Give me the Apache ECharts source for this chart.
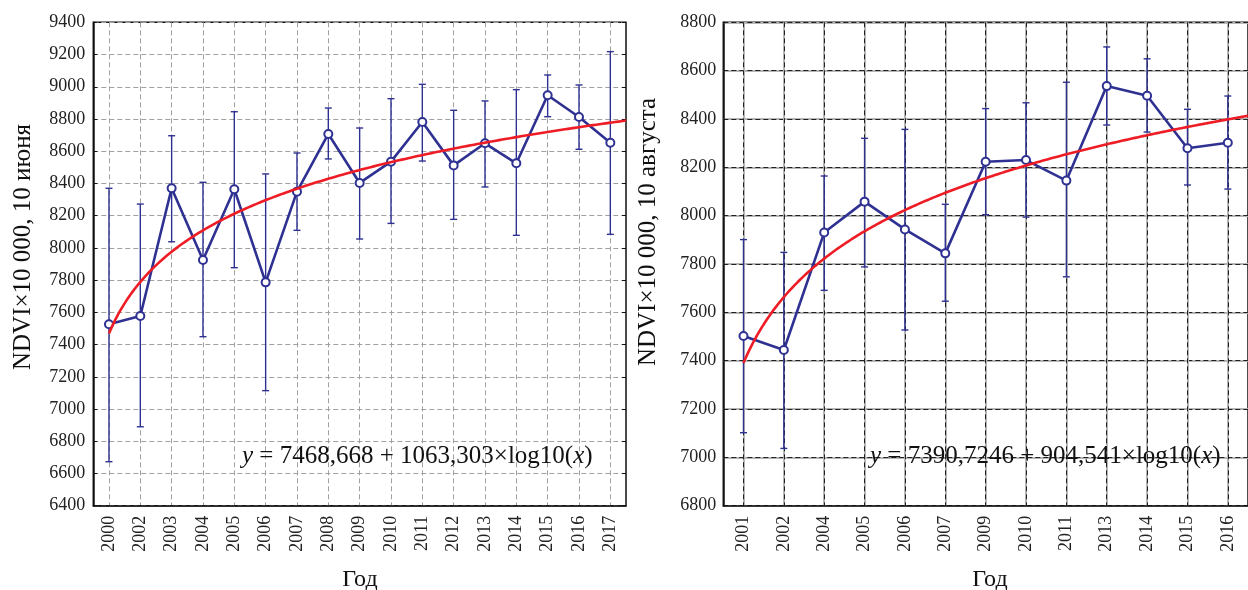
<!DOCTYPE html>
<html><head><meta charset="utf-8">
<script src="https://cdn.jsdelivr.net/npm/echarts@6/dist/echarts.min.js"></script>
<style>html,body{margin:0;padding:0;background:#fff}#c{width:1248px;height:590px}</style>
</head><body><div id="c"></div>
<script>
// ---- Left panel: 10 June ----
const yearsJune = ['2000','2002','2003','2004','2005','2006','2007','2008','2009','2010','2011','2012','2013','2014','2015','2016','2017'];
const meanJune  = [7526,7577,8370,7925,8364,7786,8349,8707,8403,8535,8781,8512,8649,8525,8947,8812,8653];
const upJune    = [8370,8272,8696,8407,8845,8459,8589,8868,8744,8926,9015,8854,8912,8982,9073,9011,9218];
const lowJune   = [6673,6890,8038,7449,7877,7114,8109,8552,8055,8152,8539,8177,8378,8078,8814,8612,8084];
const fitJune   = [7468.668, 1063.303];
const eqJune    = '7468,668 + 1063,303';
const yTicksJune = [6400, 9400, 200];

// ---- Right panel: 10 August ----
const yearsAug = ['2001','2002','2004','2005','2006','2007','2009','2010','2011','2013','2014','2015','2016'];
const meanAug  = [7502,7444,7930,8058,7943,7844,8223,8230,8145,8536,8496,8279,8302];
const upAug    = [7901,7848,8164,8320,8357,8047,8443,8467,8552,8698,8649,8440,8495];
const lowAug   = [7102,7037,7691,7788,7527,7646,8004,7994,7747,8375,8346,8127,8110];
const fitAug   = [7390.7246, 904.541];
const eqAug    = '7390,7246 + 904,541';
const yTicksAug = [6800, 8800, 200];

const FONT = '"Liberation Serif","Times New Roman",serif';
const NAVY = '#2e3192';
const RED = '#ee1c25';

function fitCurve(coef, n) {
  const pts = [];
  for (let x = 1; x <= n + 0.5 + 1e-9; x += 0.05) pts.push([x, coef[0] + coef[1] * Math.log10(x)]);
  return pts;
}
function errData(up, low) { return up.map((u, i) => [i, low[i], u]); }
function errRender(params, api) {
  const x = api.value(0);
  const lo = api.coord([x, api.value(1)]);
  const hi = api.coord([x, api.value(2)]);
  const w = 3.5;
  const st = { stroke: NAVY, lineWidth: 1.4 };
  return { type: 'group', children: [
    { type: 'line', shape: { x1: lo[0], y1: lo[1], x2: hi[0], y2: hi[1] }, style: st },
    { type: 'line', shape: { x1: lo[0]-w, y1: lo[1], x2: lo[0]+w, y2: lo[1] }, style: st },
    { type: 'line', shape: { x1: hi[0]-w, y1: hi[1], x2: hi[0]+w, y2: hi[1] }, style: st }
  ]};
}

const grids = [
  { left: 93.3, top: 22.3, width: 532.7, height: 483.4, show: true, borderColor: '#111', borderWidth: 1.5, backgroundColor: 'transparent' },
  { left: 723.3, top: 22.3, width: 532.4, height: 483.4, show: true, borderColor: '#111', borderWidth: 1.5, backgroundColor: 'transparent' }
];

const plain = v => String(v);
const xLabel = { interval: 0, rotate: 90, fontFamily: FONT, fontSize: 18, color: '#222', margin: 10 };
const yLabel = { fontFamily: FONT, fontSize: 18, color: '#222', margin: 8, formatter: plain };

const xAxes = [
  { type: 'category', gridIndex: 0, data: yearsJune, boundaryGap: true,
    axisLine: { lineStyle: { color: '#111', width: 1.5 } }, axisTick: { show: false }, axisLabel: xLabel,
    splitLine: { show: true, alignWithLabel: true, lineStyle: { color: '#a0a0a0', type: [5, 3], width: 1 } } },
  { type: 'value', gridIndex: 0, min: 0.5, max: yearsJune.length + 0.5, show: false },
  { type: 'category', gridIndex: 1, data: yearsAug, boundaryGap: true,
    axisLine: { lineStyle: { color: '#111', width: 1.5 } }, axisTick: { show: false }, axisLabel: xLabel,
    splitLine: { show: true, alignWithLabel: true, lineStyle: { color: '#b5b5b5', width: 2 } } },
  { type: 'value', gridIndex: 1, min: 0.5, max: yearsAug.length + 0.5, show: false },
  { type: 'category', gridIndex: 1, data: yearsAug, boundaryGap: true, axisLine: { show: false }, axisTick: { show: false }, axisLabel: { show: false },
    splitLine: { show: true, alignWithLabel: true, lineStyle: { color: '#222', type: [5, 3], width: 1 } } }
];

const yAxes = [
  { type: 'value', gridIndex: 0, min: yTicksJune[0], max: yTicksJune[1], interval: yTicksJune[2],
    axisLine: { show: true, lineStyle: { color: '#111', width: 1.5 } },
    axisTick: { show: true, inside: true, length: 4, lineStyle: { color: '#111' } }, axisLabel: yLabel,
    splitLine: { show: true, lineStyle: { color: '#a0a0a0', type: [5, 3], width: 1 } } },
  { type: 'value', gridIndex: 0, position: 'right', min: yTicksJune[0], max: yTicksJune[1], interval: yTicksJune[2],
    axisLine: { show: false }, axisTick: { show: true, inside: true, length: 4, lineStyle: { color: '#111' } },
    axisLabel: { show: false }, splitLine: { show: false } },
  { type: 'value', gridIndex: 1, min: yTicksAug[0], max: yTicksAug[1], interval: yTicksAug[2],
    axisLine: { show: true, lineStyle: { color: '#111', width: 1.5 } }, axisTick: { show: false },
    axisLabel: Object.assign({}, yLabel, { margin: 7 }),
    splitLine: { show: true, lineStyle: { color: '#b5b5b5', width: 2 } } },
  { type: 'value', gridIndex: 1, min: yTicksAug[0], max: yTicksAug[1], interval: yTicksAug[2],
    axisLine: { show: false }, axisTick: { show: false }, axisLabel: { show: false },
    splitLine: { show: true, lineStyle: { color: '#222', type: [5, 3], width: 1 } } }
];

const series = [
  { type: 'custom', xAxisIndex: 0, yAxisIndex: 0, renderItem: errRender, data: errData(upJune, lowJune), z: 3 },
  { type: 'line', xAxisIndex: 0, yAxisIndex: 0, data: meanJune, symbol: 'emptyCircle', symbolSize: 8,
    lineStyle: { color: NAVY, width: 2.6 }, itemStyle: { color: NAVY, borderWidth: 1.2 }, z: 4, animation: false },
  { type: 'line', xAxisIndex: 1, yAxisIndex: 0, data: fitCurve(fitJune, yearsJune.length), symbol: 'none',
    lineStyle: { color: RED, width: 2.6 }, z: 5, animation: false },
  { type: 'custom', xAxisIndex: 2, yAxisIndex: 2, renderItem: errRender, data: errData(upAug, lowAug), z: 3 },
  { type: 'line', xAxisIndex: 2, yAxisIndex: 2, data: meanAug, symbol: 'emptyCircle', symbolSize: 8,
    lineStyle: { color: NAVY, width: 2.6 }, itemStyle: { color: NAVY, borderWidth: 1.2 }, z: 4, animation: false },
  { type: 'line', xAxisIndex: 3, yAxisIndex: 2, data: fitCurve(fitAug, yearsAug.length), symbol: 'none',
    lineStyle: { color: RED, width: 2.6 }, z: 5, animation: false }
];

const eqRich = { i: { fontStyle: 'italic', fontFamily: FONT, fontSize: 25, fill: '#111' } };
const graphic = [
  { type: 'text', x: 23, y: 247, rotation: Math.PI / 2, style: { text: 'NDVI×10 000, 10 июня', font: '25px ' + FONT, fill: '#111', textAlign: 'center', textVerticalAlign: 'middle' } },
  { type: 'text', x: 648, y: 232, rotation: Math.PI / 2, style: { text: 'NDVI×10 000, 10 августа', font: '25px ' + FONT, fill: '#111', textAlign: 'center', textVerticalAlign: 'middle' } },
  { type: 'text', x: 360, y: 580, style: { text: 'Год', font: '24px ' + FONT, fill: '#111', textAlign: 'center', textVerticalAlign: 'middle' } },
  { type: 'text', x: 990, y: 580, style: { text: 'Год', font: '24px ' + FONT, fill: '#111', textAlign: 'center', textVerticalAlign: 'middle' } },
  { type: 'text', x: 242, y: 456, z: 10, style: { text: '{i|y} = ' + eqJune + '×log10({i|x})', font: '25px ' + FONT, fill: '#111', textVerticalAlign: 'middle', rich: eqRich } },
  { type: 'text', x: 870, y: 456, z: 10, style: { text: '{i|y} = ' + eqAug + '×log10({i|x})', font: '25px ' + FONT, fill: '#111', textVerticalAlign: 'middle', rich: eqRich } }
];

const chart = echarts.init(document.getElementById('c'), null, { renderer: 'canvas' });
chart.setOption({ animation: false, backgroundColor: '#fff', grid: grids, xAxis: xAxes, yAxis: yAxes, series: series, graphic: graphic });
</script></body></html>
